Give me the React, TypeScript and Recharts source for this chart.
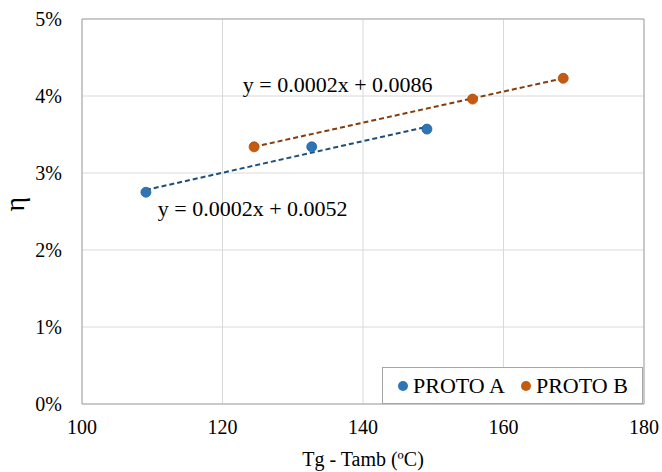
import React from "react";
import {
  CartesianGrid,
  ReferenceDot,
  ReferenceLine,
  Scatter,
  ScatterChart,
  XAxis,
  YAxis,
} from "recharts";

// measured points (x = Tg - Tamb, y = efficiency as fraction)
const protoA = [
  { x: 109.1, y: 0.0275 },
  { x: 132.7, y: 0.0334 },
  { x: 149.1, y: 0.0357 },
];
const protoB = [
  { x: 124.5, y: 0.0334 },
  { x: 155.6, y: 0.0396 },
  { x: 168.5, y: 0.0423 },
];

// trendline end points
const trendA = [
  { x: 109.1, y: 0.0278 },
  { x: 149.1, y: 0.0360 },
];
const trendB = [
  { x: 124.5, y: 0.0334 },
  { x: 168.5, y: 0.0423 },
];

const xTicks = [100, 120, 140, 160, 180];
const yTicks = [0, 0.01, 0.02, 0.03, 0.04, 0.05];

const eqA = "y = 0.0002x + 0.0052";
const eqB = "y = 0.0002x + 0.0086";

const FONT = "Liberation Serif, Times New Roman, DejaVu Serif, serif";
const BLUE = "#2E75B6";
const ORANGE = "#C55A11";

function LegendBox() {
  const item = (color: string, label: string, gap: number) => (
    <span style={{ display: "inline-flex", alignItems: "center", marginRight: gap }}>
      <span
        style={{
          width: 10,
          height: 10,
          borderRadius: 5,
          background: color,
          display: "inline-block",
          marginRight: 5,
        }}
      />
      {label}
    </span>
  );
  return (
    <div
      style={{
        position: "absolute",
        left: 382,
        top: 367,
        width: 261,
        height: 37,
        border: "1px solid #A6A6A6",
        background: "#fff",
        fontFamily: FONT,
        fontSize: 22,
        lineHeight: "22px",
        color: "#000",
        boxSizing: "border-box",
        display: "flex",
        alignItems: "center",
        paddingLeft: 15,
        whiteSpace: "nowrap",
      }}
    >
      {item(BLUE, "PROTO A", 16)}
      {item(ORANGE, "PROTO B", 0)}
    </div>
  );
}

const tickStyle = { fontFamily: FONT, fontSize: 20, fill: "#000" };

export default function App() {
  return (
    <div style={{ position: "absolute", left: 0, top: 0, width: 662, height: 472, background: "#fff", fontFamily: FONT }}>
      <ScatterChart width={662} height={472} margin={{ top: 19, right: 18, bottom: 0, left: 0 }}>
        <CartesianGrid stroke="#D9D9D9" />
        <XAxis
          type="number"
          dataKey="x"
          domain={[100, 180]}
          ticks={xTicks}
          axisLine={{ stroke: "#A6A6A6" }}
          tickLine={false}
          height={68}
          tick={tickStyle}
          fontSize={20}
          tickMargin={10}
          label={{
            value: "Tg - Tamb (ºC)",
            position: "insideBottom",
            offset: 6,
            fontSize: 20,
            fontFamily: FONT,
            fill: "#000",
          }}
        />
        <YAxis
          type="number"
          dataKey="y"
          domain={[0, 0.05]}
          ticks={yTicks}
          width={82}
          axisLine={{ stroke: "#A6A6A6" }}
          tickLine={false}
          tickMargin={14}
          fontSize={20}
          tickFormatter={(v: number) => `${Math.round(v * 100)}%`}
          tick={tickStyle}
          label={{
            value: "η",
            angle: -90,
            position: "insideLeft",
            offset: 14,
            fontSize: 28,
            fontFamily: FONT,
            fill: "#000",
          }}
        />
        <ReferenceLine y={0.05} stroke="#A6A6A6" />
        <ReferenceLine x={180} stroke="#A6A6A6" />
        <Scatter
          data={trendA}
          line={{ stroke: "#1F4E79", strokeWidth: 2, strokeDasharray: "5 3" }}
          shape={() => <g />}
          legendType="none"
          isAnimationActive={false}
        />
        <Scatter
          data={trendB}
          line={{ stroke: "#843C0C", strokeWidth: 2, strokeDasharray: "5 3" }}
          shape={() => <g />}
          legendType="none"
          isAnimationActive={false}
        />
        <Scatter
          name="PROTO A"
          data={protoA}
          fill={BLUE}
          shape={(p: any) => (
            <circle cx={p.cx} cy={p.cy} r={5} fill={BLUE} stroke="#2563A0" strokeWidth={0.8} />
          )}
          isAnimationActive={false}
        />
        <Scatter
          name="PROTO B"
          data={protoB}
          fill={ORANGE}
          shape={(p: any) => (
            <circle cx={p.cx} cy={p.cy} r={5} fill={ORANGE} stroke="#A84C0E" strokeWidth={0.8} />
          )}
          isAnimationActive={false}
        />
        <ReferenceDot
          x={136.4}
          y={0.0415}
          r={0}
          label={{ value: eqB, position: "center", fontSize: 22, fontFamily: FONT, fill: "#000" }}
        />
        <ReferenceDot
          x={124.3}
          y={0.0254}
          r={0}
          label={{ value: eqA, position: "center", fontSize: 22, fontFamily: FONT, fill: "#000" }}
        />
      </ScatterChart>
      <LegendBox />
    </div>
  );
}
